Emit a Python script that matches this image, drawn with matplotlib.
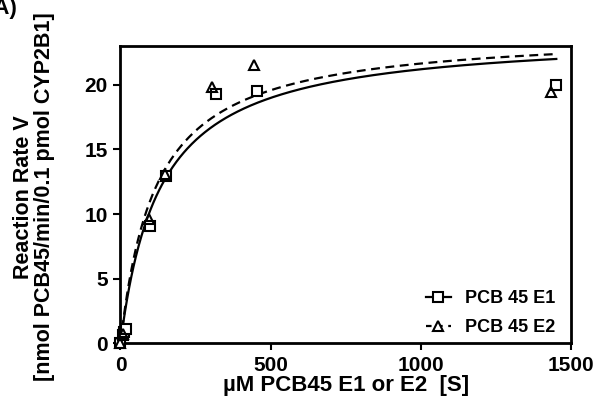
import numpy as np
import matplotlib
matplotlib.use("Agg")
import matplotlib.pyplot as plt

plt.rcParams["font.family"] = ["Liberation Sans", "DejaVu Sans"]
plt.rcParams["font.weight"] = "bold"

# Measured points (substrate uM, rate)
s_e1 = [0, 7, 12.6, 20, 98, 150, 317, 456, 1451]
v_e1 = [0, 0.64, 0.9, 1.08, 9.1, 12.97, 19.25, 19.5, 19.95]
s_e2 = [0, 10, 94, 148, 305, 444, 1432]
v_e2 = [0, 0.75, 9.64, 13.07, 19.8, 21.5, 19.46]

# Michaelis-Menten fit parameters
vmax_e1, km_e1 = 24.0, 132.0
vmax_e2, km_e2 = 24.2, 118.0
s_max = 1451

x_ticks = [0, 500, 1000, 1500]
y_ticks = [0, 5, 10, 15, 20]

fig = plt.figure(figsize=(6.0, 4.12), dpi=100)
ax = fig.add_axes([0.2008, 0.1667, 0.7509, 0.7216])

s = np.linspace(0, s_max, 600)
ax.plot(s, vmax_e1 * s / (km_e1 + s), color="black", lw=1.6)
ax.plot(s, vmax_e2 * s / (km_e2 + s), color="black", lw=1.6, ls=(0, (4, 2.5)))

ax.plot(s_e1, v_e1, ls="none", marker="s", ms=7, mfc="white", mec="black", mew=1.5, clip_on=False, zorder=3)
ax.plot(s_e2, v_e2, ls="none", marker="^", ms=7, mfc="none", mec="black", mew=1.5, clip_on=False, zorder=3)

# legend proxies
h1, = ax.plot([], [], color="black", lw=1.6, marker="s", ms=7, mfc="white", mec="black", mew=1.5)
h2, = ax.plot([], [], color="black", lw=1.6, ls=(0, (2.5, 2.5)), marker="^", ms=7, mfc="white", mec="black", mew=1.5)
leg = ax.legend([h1, h2], ["PCB 45 E1", "PCB 45 E2"], loc="lower right", frameon=False,
                fontsize=13, handlelength=1.4, handletextpad=0.75, labelspacing=0.65,
                borderaxespad=0, bbox_to_anchor=(0.98, 0.0))

ax.set_xlim(0, 1500)
ax.set_ylim(0, 23)
ax.set_xticks(x_ticks)
ax.set_yticks(y_ticks)
ax.tick_params(direction="out", length=5, width=1.5, labelsize=15, pad=4)
ax.tick_params(axis="x", top=False)
ax.tick_params(axis="y", right=False)
for sp in ax.spines.values():
    sp.set_linewidth(2)

ax.set_xlabel("\u00b5M PCB45 E1 or E2  [S]", fontsize=16, fontweight="bold", labelpad=0)

fig.text(34 / 600, 0.522, "Reaction Rate V\n[nmol PCB45/min/0.1 pmol CYP2B1]",
         rotation=90, ha="center", va="center", multialignment="center",
         fontsize=15.5, fontweight="bold", linespacing=0.95)

# panel tag, partly cut off at the left edge as in the source
fig.text(-0.022, 1.005, "(A)", fontsize=16, fontweight="bold", va="top", ha="left")

fig.savefig("out.png", dpi=100)
